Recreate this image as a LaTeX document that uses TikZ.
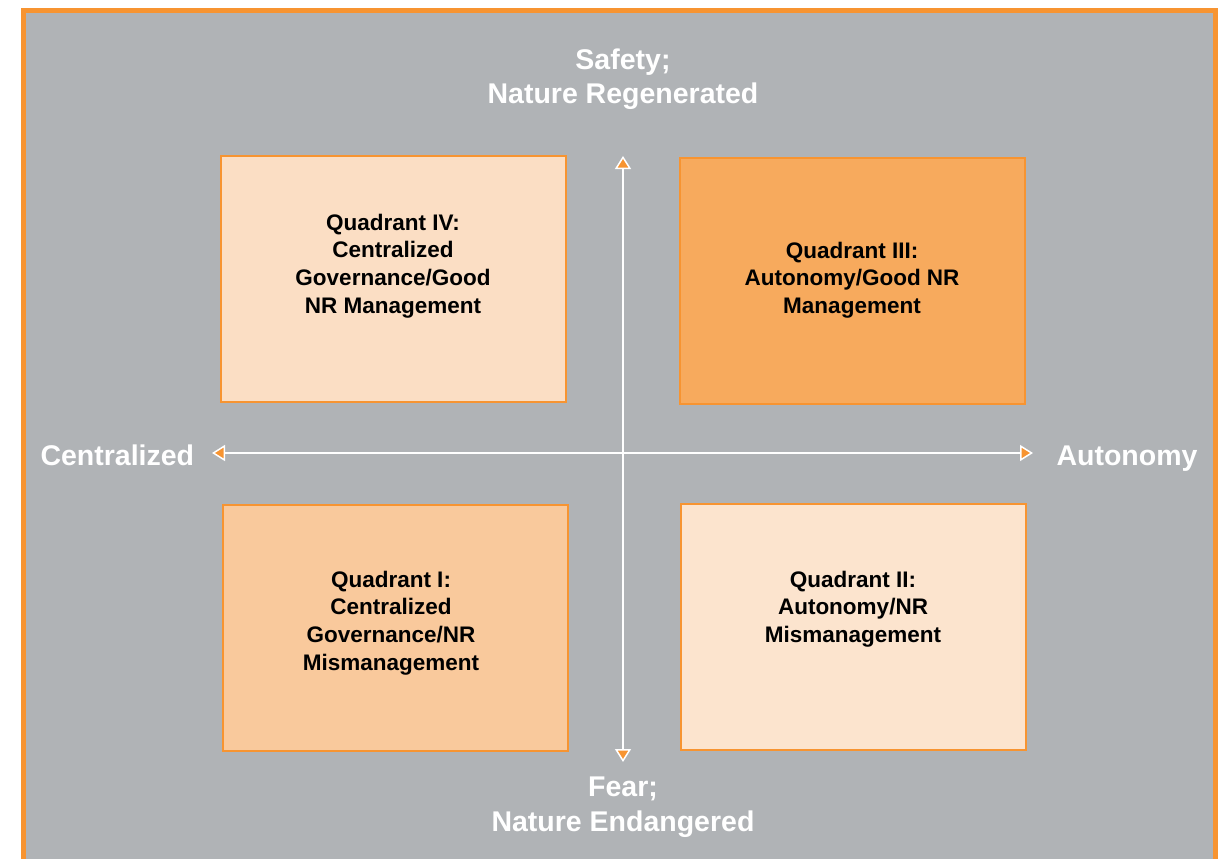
\documentclass[tikz,border=0pt]{standalone}
\usepackage{fontspec}
\setmainfont{Liberation Sans}
\usetikzlibrary{arrows.meta}

\definecolor{bggray}{RGB}{176,179,182}
\definecolor{frameorange}{RGB}{247,148,49}
\definecolor{qone}{RGB}{249,201,156}
\definecolor{qtwo}{RGB}{252,228,206}
\definecolor{qthree}{RGB}{247,170,93}
\definecolor{qfour}{RGB}{251,222,196}

\begin{document}
\begin{tikzpicture}[x=1pt,y=-1pt,
  quad/.style={draw=frameorange, line width=2pt, minimum width=345pt, minimum height=246pt, inner sep=0pt},
  quadtext/.style={align=center, font=\fontsize{22.5}{27.7}\selectfont\bfseries, text=black},
  axlabel/.style={align=center, font=\fontsize{28.5}{34.5}\selectfont\bfseries, text=white},
  AxTip/.tip={Triangle[length=13pt, width=16pt, fill=frameorange, line width=1.5pt]}]
\useasboundingbox (0,0) rectangle (1226,859);
\fill[white] (0,0) rectangle (1226,859);
\fill[color=bggray] (21,8) rectangle (1218,870);
\draw[frameorange, line width=5pt] (23.5,875) -- (23.5,10.5) -- (1215.5,10.5) -- (1215.5,875);

\node[quad, fill=qfour] (q4) at (393.5,278.5) {};
\node[quad, fill=qthree] (q3) at (852.5,280.5) {};
\node[quad, fill=qone] (q1) at (395,628) {};
\node[quad, fill=qtwo] (q2) at (853.5,626.5) {};

\node[quadtext] (t4) at (393,266) {Quadrant IV:\\Centralized\\Governance/Good\\NR Management};
\node[quadtext] (t3) at (852,280) {Quadrant III:\\Autonomy/Good NR\\Management};
\node[quadtext] (t1) at (391,623) {Quadrant I:\\Centralized\\Governance/NR\\Mismanagement};
\node[quadtext] (t2) at (853,609) {Quadrant II:\\Autonomy/NR\\Mismanagement};

\coordinate (top) at (623,156);
\coordinate (bottom) at (623,762);
\coordinate (left) at (212,453);
\coordinate (right) at (1033,453);
\path[draw,white,line width=2pt,{AxTip}-{AxTip}] (top) -- (bottom);
\path[draw,white,line width=2pt,{AxTip}-{AxTip}] (left) -- (right);

\node[axlabel] (safe) at (623,79) {Safety;\\Nature Regenerated};
\node[axlabel] (fear) at (623,807) {Fear;\\Nature Endangered};
\node[axlabel, anchor=west] (cent) at (37,455) {Centralized};
\node[axlabel] (auto) at (1127,459) {Autonomy};
\end{tikzpicture}
\end{document}
